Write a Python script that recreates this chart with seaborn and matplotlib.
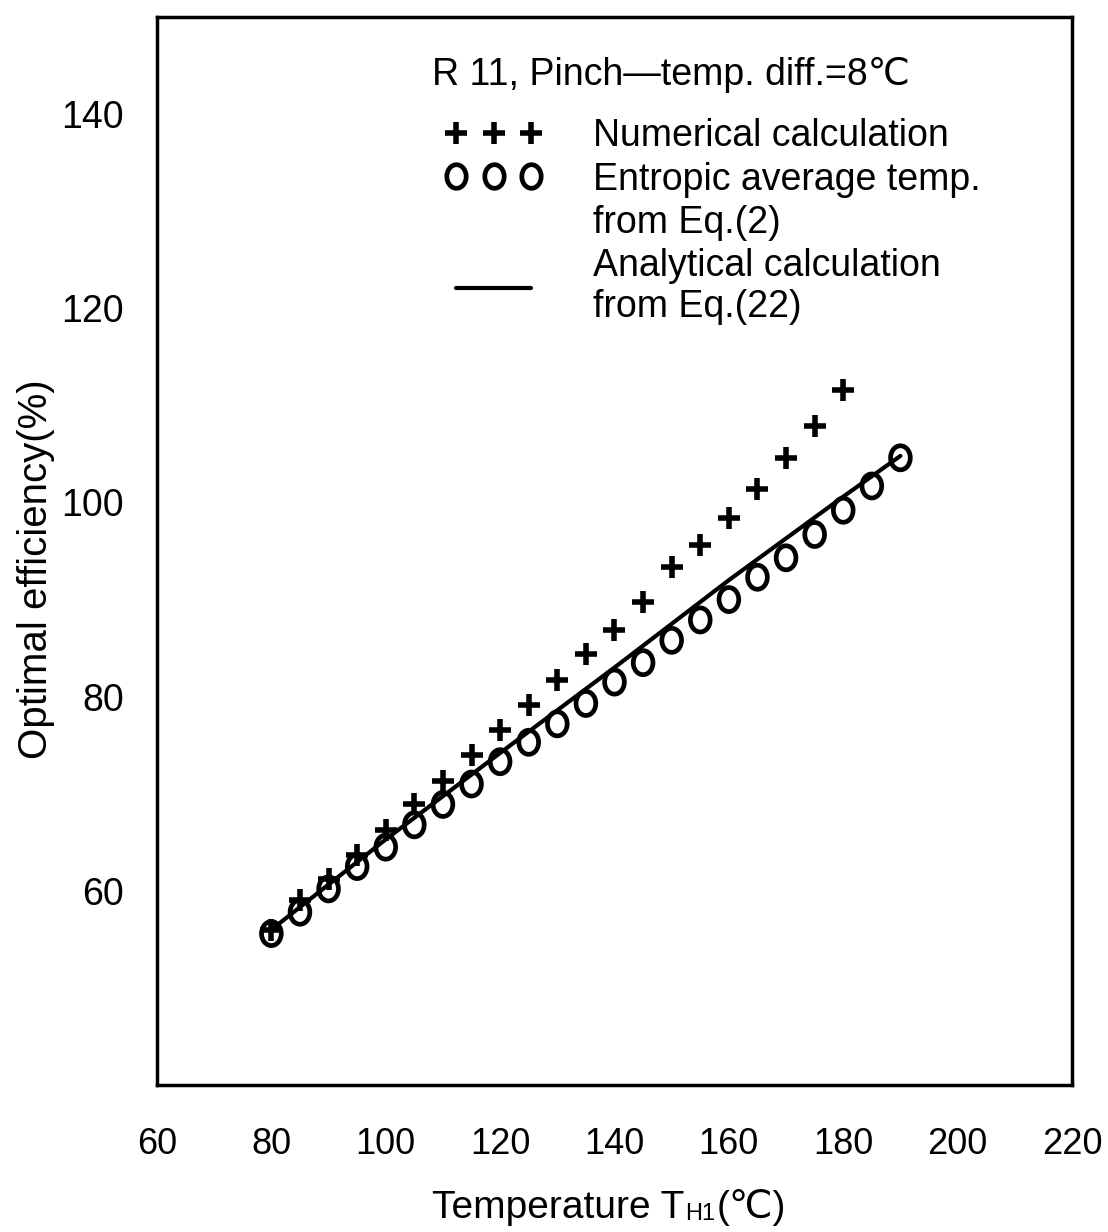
import numpy as np
import matplotlib
matplotlib.use("Agg")
import matplotlib.pyplot as plt
from matplotlib.lines import Line2D
from matplotlib.path import Path
from matplotlib.transforms import Affine2D
import seaborn as sns

# numerical calculation (+)
temp_num = [80, 85, 90, 95, 100, 105, 110, 115, 120, 125, 130,
            135, 140, 145, 150, 155, 160, 165, 170, 175, 180]
eff_num = [56.0, 59.1, 61.2, 63.7, 66.3, 68.9, 71.3, 74.0, 76.6, 79.1, 81.7,
           84.4, 86.9, 89.7, 93.4, 95.6, 98.4, 101.4, 104.6, 107.9, 111.6]

# entropic average temp. from Eq.(2) (o)
temp_ent = [80, 85, 90, 95, 100, 105, 110, 115, 120, 125, 130, 135,
            140, 145, 150, 155, 160, 165, 170, 175, 180, 185, 190]
eff_ent = [55.6, 57.8, 60.2, 62.5, 64.5, 66.8, 68.9, 71.0, 73.3, 75.3, 77.2, 79.3,
           81.5, 83.5, 85.8, 87.9, 90.0, 92.3, 94.3, 96.7, 99.2, 101.7, 104.6]

# analytical calculation from Eq.(22) (line)
temp_ana = [80, 100, 120, 140, 160, 180, 190]
eff_ana = [56.0, 65.3, 74.2, 83.0, 92.0, 100.6, 104.8]

xticks = [60, 80, 100, 120, 140, 160, 180, 200, 220]
yticks = [60, 80, 100, 120, 140]

sns.set_style("white")
plt.rcParams['font.family'] = ['Liberation Sans', 'DejaVu Sans']
for k in ['text.color', 'axes.labelcolor', 'xtick.color', 'ytick.color']:
    plt.rcParams[k] = 'black'

# slightly tall open ellipse, like the printed circles
ell = Path(Affine2D().scale(0.82, 1.0).transform(Path.unit_circle().vertices),
           Path.unit_circle().codes)

fig = plt.figure(figsize=(11.08, 12.32), dpi=100)
ax = fig.add_axes([0.1417, 0.1193, 0.8258, 0.8669])

sns.lineplot(x=temp_ana, y=eff_ana, color='black', linewidth=3, ax=ax)
sns.scatterplot(x=temp_ent, y=eff_ent, marker=ell, s=300, facecolor='none',
                edgecolor='black', linewidth=3.4, ax=ax, zorder=3)
sns.scatterplot(x=temp_num, y=eff_num, marker='+', s=260, color='black',
                linewidth=4, ax=ax, zorder=4)

ax.set_xlim(60, 220)
ax.set_ylim(40, 150)
ax.set_xticks(xticks)
ax.set_yticks(yticks)
ax.set_xticklabels([str(t) for t in xticks], fontsize=26)
ax.set_yticklabels([str(t) for t in yticks], fontsize=27)
ax.tick_params(axis='x', direction='in', length=11, width=2.5, pad=30)
ax.tick_params(axis='y', direction='in', length=11, width=2.5, pad=24)
for s in ax.spines.values():
    s.set_linewidth(2.5)
    s.set_color('black')

ax.set_ylabel('Optimal efficiency(%)', fontsize=29)
ax.yaxis.set_label_coords(-0.111, 0.483)

# x label: "Temperature T" + subscript "H1" + "(℃)"
t1 = ax.text(0.3005, -0.1245, 'Temperature T', transform=ax.transAxes,
             fontsize=28, ha='left', va='baseline')
t2 = ax.annotate('H1', xy=(1, 0), xycoords=t1, xytext=(0.5, 1),
                 textcoords='offset points', fontsize=17, ha='left', va='bottom')
ax.annotate('(℃)', xy=(1, 0), xycoords=(t2, t1), xytext=(1, 0),
            textcoords='offset points', fontsize=28, ha='left', va='bottom')

ax.text(0.3005, 0.9457, 'R 11, Pinch\u2014temp. diff.=8℃', transform=ax.transAxes,
        fontsize=27, va='center', ha='left')

handles = [
    Line2D([], [], ls='none', marker='+', ms=16, mew=4, color='black'),
    Line2D([], [], ls='none', marker=ell, ms=17, mew=3.4, mfc='none', color='black'),
    Line2D([], [], ls='none'),
    Line2D([], [], color='black', lw=3),
]
labels = ['Numerical calculation', 'Entropic average temp.', 'from Eq.(2)',
          'Analytical calculation\nfrom Eq.(22)']
ax.legend(handles, labels, loc='upper left', bbox_to_anchor=(0.315, 0.905),
          frameon=False, fontsize=27, numpoints=3, handlelength=2.6,
          handletextpad=1.35, labelspacing=0.19, borderpad=0, borderaxespad=0)

fig.savefig('out.png', dpi=100)
